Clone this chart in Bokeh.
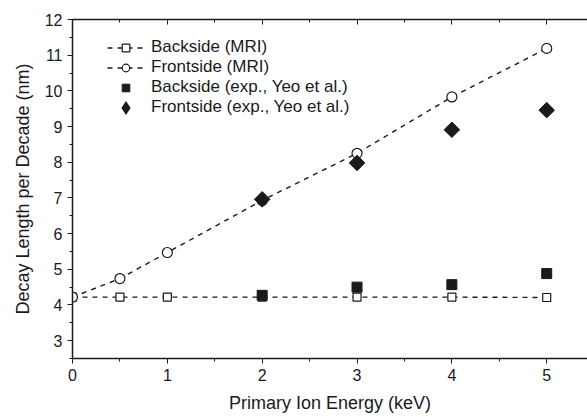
import numpy as np
from bokeh.plotting import figure
from bokeh.models import Range1d, LinearAxis, Legend, LegendItem, FixedTicker
from bokeh.embed import file_html
from bokeh.resources import INLINE

# Data
mri_energy = [0, 0.5, 1, 2, 3, 4, 5]
back_mri = [4.22, 4.22, 4.22, 4.22, 4.22, 4.22, 4.21]
front_mri = [4.22, 4.74, 5.47, 6.93, 8.25, 9.83, 11.19]

exp_energy = [2, 3, 4, 5]
back_exp = [4.27, 4.50, 4.57, 4.88]
front_exp = [6.96, 7.98, 8.91, 9.46]

x_ticks = [0, 1, 2, 3, 4, 5]
y_ticks = [3, 4, 5, 6, 7, 8, 9, 10, 11, 12]

FONT = "Liberation Sans"
INK = "#1a1a1a"

p = figure(width=587, height=417, output_backend="svg", toolbar_location=None,
           x_range=Range1d(0, 5.43), y_range=Range1d(2.5, 12),
           min_border_left=72, min_border_right=0, min_border_top=19, min_border_bottom=59,
           x_axis_label="Primary Ion Energy (keV)", y_axis_label="Decay Length per Decade (nm)")
p.outline_line_color = None
p.grid.visible = False
p.background_fill_color = "white"
p.border_fill_color = "white"

for ax in (p.xaxis[0], p.yaxis[0]):
    ax.axis_line_color = INK
    ax.axis_line_width = 1.5
    ax.major_tick_line_color = INK
    ax.minor_tick_line_color = INK
    ax.major_tick_in = 0
    ax.major_tick_out = 5
    ax.minor_tick_in = 0
    ax.minor_tick_out = 3
    ax.major_label_text_font = FONT
    ax.major_label_text_font_size = "16px"
    ax.major_label_text_color = INK
    ax.axis_label_text_font = FONT
    ax.axis_label_text_font_size = "18px"
    ax.axis_label_text_font_style = "normal"
    ax.axis_label_text_color = INK

p.xaxis[0].ticker = FixedTicker(ticks=x_ticks, minor_ticks=[0.5 + i for i in range(6)])
p.yaxis[0].ticker = FixedTicker(ticks=y_ticks, minor_ticks=[2.5 + i for i in range(10)])
p.xaxis[0].major_label_standoff = 5
p.xaxis[0].axis_label_standoff = 9
p.yaxis[0].major_label_standoff = 5
p.yaxis[0].axis_label_standoff = 9

top = LinearAxis(ticker=FixedTicker(ticks=x_ticks, minor_ticks=[0.5 + i for i in range(6)]))
top.axis_line_color = INK
top.axis_line_width = 1.5
top.major_tick_in = 5
top.major_tick_out = 0
top.minor_tick_in = 3
top.minor_tick_out = 0
top.major_tick_line_color = INK
top.minor_tick_line_color = INK
top.major_label_text_font_size = "0px"
top.major_label_text_color = None
top.major_label_standoff = 0
p.add_layout(top, "above")

DASH = "5 5"
l1 = p.line(mri_energy, back_mri, line_color=INK, line_width=1.4, line_dash=DASH)
s1 = p.scatter(mri_energy, back_mri, marker="square", size=8, fill_color="white",
               line_color=INK, line_width=1.2)
l2 = p.line(mri_energy, front_mri, line_color=INK, line_width=1.4, line_dash=DASH)
s2 = p.scatter(mri_energy, front_mri, marker="circle", size=10, fill_color="white",
               line_color=INK, line_width=1.2)
s3 = p.scatter(exp_energy, back_exp, marker="square", size=10, fill_color=INK,
               line_color=INK)
s4 = p.scatter(exp_energy, front_exp, marker="square", angle=np.pi / 4, size=11,
               fill_color=INK, line_color=INK)
# hidden legend proxy for the diamond (legend glyphs ignore marker angle)
s4_leg = p.scatter(exp_energy, front_exp, marker="diamond", fill_color=INK,
                   line_color=INK, line_width=3.5, line_join="miter", visible=False)

legend = Legend(items=[
    LegendItem(label="Backside (MRI)", renderers=[l1, s1]),
    LegendItem(label="Frontside (MRI)", renderers=[l2, s2]),
    LegendItem(label="Backside (exp., Yeo et al.)", renderers=[s3]),
    LegendItem(label="Frontside (exp., Yeo et al.)", renderers=[s4_leg]),
], location=(35, 241))
legend.border_line_color = None
legend.background_fill_alpha = 0
legend.padding = 0
legend.margin = 0
legend.spacing = 0
legend.glyph_width = 37
legend.glyph_height = 19
legend.label_height = 19
legend.label_standoff = 7
legend.label_text_font = FONT
legend.label_text_font_size = "17px"
legend.label_text_color = INK
p.add_layout(legend, "center")

open("out.html", "w").write(file_html(p, INLINE))
